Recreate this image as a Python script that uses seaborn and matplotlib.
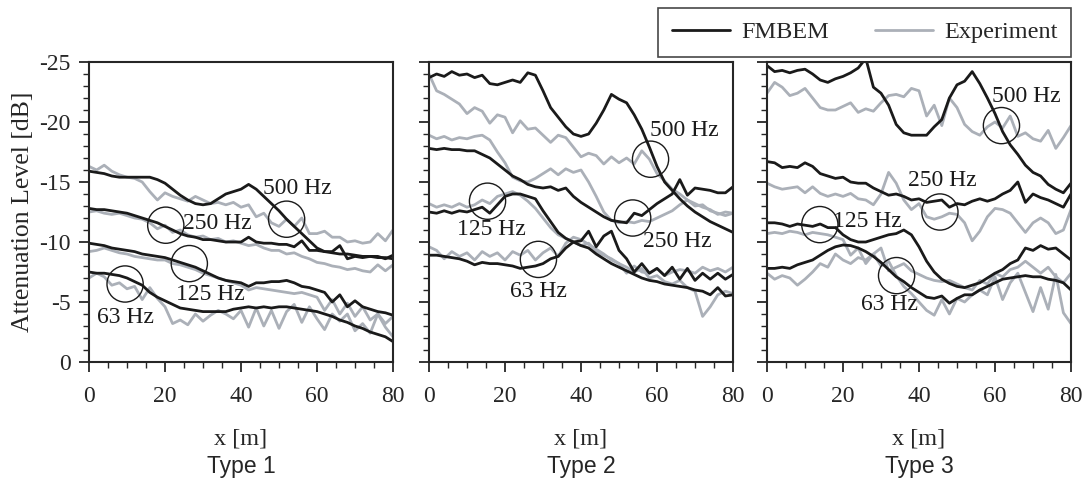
import numpy as np
import pandas as pd
import matplotlib
matplotlib.use("Agg")
import matplotlib.pyplot as plt
from matplotlib.ticker import MultipleLocator
from matplotlib.lines import Line2D
import seaborn as sns

# ── Data (attenuation level in dB, sampled every 2 m) ──
X_M = list(range(0, 81, 2))
TYPES = ["Type 1", "Type 2", "Type 3"]
FREQS = ["63 Hz", "125 Hz", "250 Hz", "500 Hz"]

# Type 1
T1_FMBEM_63 = [-7.5, -7.4, -7.4, -7.3, -7.2, -7.0, -6.7, -6.4, -5.8, -5.4, -5.1, -4.8, -4.5, -4.4, -4.3, -4.2, -4.2, -4.2, -4.2, -4.4, -4.5,
               -4.6, -4.5, -4.6, -4.5, -4.6, -4.6, -4.5, -4.4, -4.3, -4.2, -4.0, -3.8, -3.5, -3.3, -3.0, -2.8, -2.5, -2.3, -2.1, -1.7]
T1_EXP_63 = [-7.0, -7.4, -7.1, -6.4, -6.6, -6.1, -6.3, -5.2, -6.2, -5.3, -4.6, -3.2, -3.5, -3.1, -4.0, -3.4, -3.9, -4.3, -4.0, -3.6, -4.3,
             -2.9, -4.5, -3.0, -4.3, -2.8, -4.2, -4.8, -3.3, -4.6, -3.6, -2.7, -4.0, -3.4, -4.0, -2.6, -3.2, -2.4, -4.0, -2.9, -2.1]
T1_FMBEM_125 = [-9.9, -9.8, -9.7, -9.5, -9.4, -9.3, -9.2, -9.0, -8.9, -8.8, -8.7, -8.5, -8.3, -8.1, -7.9, -7.6, -7.3, -7.0, -6.8, -6.7, -6.6,
                -6.3, -6.6, -6.6, -6.7, -6.7, -6.8, -6.6, -6.3, -6.2, -6.0, -5.8, -5.0, -5.6, -4.6, -5.1, -4.6, -4.4, -4.2, -4.1, -3.9]
T1_EXP_125 = [-9.2, -9.3, -9.5, -9.3, -9.1, -9.0, -8.8, -8.7, -8.6, -8.5, -8.5, -8.2, -8.1, -7.9, -7.7, -7.4, -7.2, -7.0, -6.8, -6.6, -6.4,
              -6.0, -6.2, -6.1, -6.0, -5.9, -5.8, -5.7, -5.8, -5.6, -5.4, -4.3, -5.2, -4.0, -4.9, -3.8, -4.6, -3.5, -4.0, -3.2, -3.8]
T1_FMBEM_250 = [-12.8, -12.7, -12.7, -12.6, -12.5, -12.4, -12.2, -12.0, -11.8, -11.6, -11.3, -11.0, -10.7, -10.5, -10.4, -10.2, -10.2, -10.1, -10.0, -10.0, -10.0,
                -10.4, -10.0, -9.9, -9.9, -9.8, -9.8, -9.6, -10.1, -9.3, -9.3, -9.2, -9.1, -9.0, -9.0, -8.9, -8.8, -8.8, -8.7, -8.7, -8.6]
T1_EXP_250 = [-12.5, -12.6, -12.4, -12.3, -12.4, -12.2, -12.0, -11.9, -11.6, -11.1, -11.4, -10.8, -11.0, -10.6, -10.4, -10.5, -10.2, -10.3, -10.0, -10.1, -9.9,
              -9.7, -9.8, -9.5, -9.3, -9.3, -9.0, -9.1, -8.8, -8.6, -8.3, -8.2, -8.0, -7.9, -7.7, -7.8, -7.6, -7.5, -8.1, -7.6, -8.1]
T1_FMBEM_500 = [-15.9, -15.8, -15.7, -15.5, -15.4, -15.4, -15.4, -15.4, -15.4, -15.2, -14.9, -14.4, -13.9, -13.5, -13.2, -13.1, -13.2, -13.6, -14.0, -14.2, -14.4,
                -14.8, -14.4, -13.8, -13.2, -12.6, -11.9, -11.3, -10.7, -10.1, -9.5, -9.2, -9.2, -9.7, -8.6, -8.8, -8.7, -8.8, -8.8, -8.6, -8.9]
T1_EXP_500 = [-16.3, -16.0, -16.4, -15.9, -15.6, -15.4, -15.3, -15.0, -14.2, -13.5, -14.1, -13.8, -13.6, -13.4, -13.8, -13.5, -13.2, -13.3, -13.1, -13.3, -12.9,
              -13.1, -12.1, -12.4, -11.6, -11.3, -11.9, -11.3, -12.0, -10.7, -10.7, -10.9, -10.4, -10.4, -10.0, -10.1, -9.9, -10.0, -10.7, -10.1, -11.0]

# Type 2
T2_FMBEM_63 = [-8.9, -8.9, -8.8, -8.7, -8.6, -8.4, -8.1, -8.3, -8.2, -8.2, -8.1, -8.0, -7.8, -7.9, -8.0, -8.2, -8.6, -8.8, -9.5, -10.0, -10.1,
               -10.9, -9.6, -10.5, -10.9, -9.3, -8.6, -7.5, -8.2, -7.4, -7.8, -7.2, -7.9, -6.9, -7.8, -6.8, -7.4, -6.9, -7.4, -6.9, -7.3]
T2_EXP_63 = [-9.6, -9.3, -8.6, -9.2, -8.8, -9.1, -8.5, -9.2, -8.8, -9.1, -8.5, -9.2, -8.9, -9.3, -8.5, -9.1, -9.5, -8.8, -9.9, -10.4, -10.2,
             -9.8, -9.4, -9.0, -8.5, -8.2, -7.4, -8.0, -7.5, -7.4, -7.8, -7.2, -7.5, -7.7, -7.6, -7.4, -7.9, -7.6, -7.8, -7.5, -7.9]
T2_FMBEM_125 = [-12.5, -12.4, -12.6, -12.4, -12.6, -12.5, -12.7, -12.9, -12.4, -13.1, -13.8, -14.0, -14.0, -13.8, -13.6, -12.6, -11.7, -10.8, -10.3, -10.0, -9.7,
                -9.5, -9.0, -8.6, -8.2, -7.9, -7.6, -7.3, -7.0, -6.8, -6.7, -6.5, -6.4, -6.3, -6.2, -6.0, -5.9, -5.6, -6.2, -5.5, -5.6]
T2_EXP_125 = [-13.2, -12.9, -13.1, -12.9, -13.2, -12.9, -13.1, -13.5, -13.2, -13.8, -14.0, -14.2, -13.9, -13.4, -12.8, -12.0, -11.2, -10.6, -10.3, -10.0, -9.7,
              -9.9, -9.2, -8.9, -8.6, -8.2, -7.9, -7.5, -7.8, -7.0, -7.2, -6.7, -6.5, -6.8, -6.2, -5.9, -3.8, -4.6, -5.6, -5.9, -5.7]
T2_FMBEM_250 = [-17.8, -17.7, -17.8, -17.7, -17.7, -17.6, -17.6, -17.3, -17.0, -16.5, -16.0, -15.5, -15.2, -14.8, -14.6, -14.5, -14.6, -14.3, -14.5, -13.8, -13.3,
                -12.9, -12.5, -12.1, -11.8, -11.7, -11.6, -12.4, -12.2, -12.7, -13.2, -13.6, -14.0, -15.2, -13.9, -14.5, -14.4, -14.3, -14.1, -14.1, -14.6]
T2_EXP_250 = [-18.9, -18.6, -18.8, -18.5, -18.7, -18.6, -18.8, -18.9, -18.5, -17.5, -16.6, -15.4, -15.1, -15.0, -15.3, -15.7, -16.1, -15.6, -16.1, -15.8, -16.0,
              -15.0, -13.8, -12.5, -11.8, -11.6, -11.7, -11.6, -11.8, -11.7, -12.0, -12.3, -12.6, -13.1, -13.5, -13.0, -13.1, -12.6, -12.4, -12.2, -12.4]
T2_FMBEM_500 = [-23.7, -24.0, -23.8, -24.2, -23.9, -24.0, -23.7, -23.9, -23.2, -23.1, -23.3, -23.5, -23.3, -24.1, -23.9, -22.6, -21.2, -20.4, -19.6, -19.0, -18.8,
                -19.0, -19.9, -21.0, -22.3, -21.9, -21.6, -20.6, -19.4, -17.9, -16.3, -15.0, -14.3, -13.6, -13.0, -12.5, -12.1, -11.7, -11.4, -11.1, -10.8]
T2_EXP_500 = [-24.0, -22.6, -22.3, -21.9, -21.5, -20.7, -21.2, -20.9, -19.9, -20.6, -20.4, -19.1, -20.1, -19.4, -19.5, -18.9, -18.3, -18.9, -18.7, -17.9, -17.1,
              -17.4, -17.2, -16.5, -17.1, -16.6, -17.0, -16.5, -17.6, -16.9, -15.7, -15.1, -14.4, -14.0, -13.5, -13.2, -12.9, -12.7, -12.3, -12.5, -12.4]

# Type 3
T3_FMBEM_63 = [-7.8, -7.8, -7.9, -7.8, -8.1, -8.3, -8.5, -8.9, -9.3, -9.6, -9.75, -9.7, -9.5, -9.2, -8.8, -8.3, -7.7, -7.1, -6.7, -6.2, -5.8,
               -5.4, -5.3, -5.5, -4.9, -5.3, -5.6, -5.6, -6.0, -6.3, -6.6, -6.9, -7.0, -7.1, -7.2, -7.1, -7.1, -6.9, -6.8, -6.6, -6.0]
T3_EXP_63 = [-7.4, -6.9, -7.2, -7.0, -6.4, -6.9, -7.5, -8.2, -7.9, -9.0, -8.5, -8.2, -8.7, -8.5, -9.0, -8.0, -8.4, -7.2, -6.3, -5.7, -5.0,
             -4.3, -3.9, -5.2, -4.0, -5.3, -5.0, -5.6, -6.0, -5.6, -7.1, -5.2, -6.6, -7.4, -5.8, -4.2, -6.2, -4.4, -7.3, -4.1, -3.2]
T3_FMBEM_125 = [-11.6, -11.6, -11.5, -11.3, -11.5, -11.4, -11.3, -11.5, -11.2, -11.2, -10.6, -10.2, -10.0, -10.0, -10.2, -10.4, -10.6, -10.7, -11.0, -10.6, -9.6,
                -8.4, -7.5, -6.9, -6.55, -6.3, -6.2, -6.4, -6.6, -7.0, -7.4, -7.7, -8.2, -8.5, -9.5, -9.3, -9.7, -9.4, -9.5, -9.0, -8.5]
T3_EXP_125 = [-10.7, -10.8, -10.7, -10.9, -10.8, -10.6, -10.8, -10.7, -10.6, -10.4, -10.2, -8.9, -9.5, -8.2, -9.0, -9.5, -7.6, -7.9, -8.2, -7.6, -7.3,
              -7.0, -6.8, -6.7, -6.8, -6.5, -6.2, -6.0, -6.8, -6.5, -7.4, -7.1, -7.7, -7.9, -8.4, -7.9, -7.4, -7.9, -7.1, -6.6, -7.4]
T3_FMBEM_250 = [-16.7, -16.6, -16.2, -16.3, -16.2, -16.6, -16.3, -15.7, -15.5, -15.3, -15.4, -15.0, -14.9, -14.9, -14.5, -14.2, -13.9, -14.0, -13.8, -13.5, -13.6,
                -13.3, -13.4, -13.5, -12.9, -13.2, -13.1, -13.4, -13.6, -13.4, -13.6, -14.0, -14.3, -15.0, -13.3, -14.0, -13.7, -13.5, -13.2, -12.9, -14.0]
T3_EXP_250 = [-14.9, -14.6, -14.4, -14.5, -14.6, -14.1, -14.6, -14.05, -13.8, -14.0, -13.8, -14.05, -13.6, -13.5, -13.1, -14.0, -15.8, -14.9, -13.5, -12.7, -13.2,
              -12.1, -11.9, -12.1, -12.4, -12.3, -11.6, -10.1, -10.9, -12.1, -12.8, -12.7, -12.4, -11.6, -10.8, -11.6, -12.0, -11.6, -10.7, -11.0, -12.7]
T3_FMBEM_500 = [-24.7, -24.2, -24.3, -24.1, -24.3, -24.4, -24.0, -23.5, -23.3, -23.6, -23.8, -24.1, -24.5, -25.3, -22.9, -22.4, -21.4, -19.8, -19.1, -18.9, -18.9,
                -18.9, -19.6, -20.2, -22.0, -23.1, -23.4, -24.2, -23.2, -22.0, -20.7, -19.2, -18.1, -17.3, -16.4, -15.8, -15.5, -14.8, -14.4, -14.1, -14.9]
T3_EXP_500 = [-22.4, -23.3, -22.9, -22.2, -22.4, -22.8, -22.0, -21.2, -21.0, -21.0, -21.3, -21.6, -20.8, -21.1, -20.9, -21.6, -22.2, -22.3, -22.1, -22.8, -22.6,
              -20.5, -21.4, -19.7, -22.0, -21.2, -19.8, -19.2, -18.9, -19.6, -20.0, -19.5, -20.5, -18.8, -19.1, -18.6, -18.4, -19.3, -17.8, -18.7, -19.7]

SERIES = {
    ("Type 1", "FMBEM"): [T1_FMBEM_63, T1_FMBEM_125, T1_FMBEM_250, T1_FMBEM_500],
    ("Type 1", "Experiment"): [T1_EXP_63, T1_EXP_125, T1_EXP_250, T1_EXP_500],
    ("Type 2", "FMBEM"): [T2_FMBEM_63, T2_FMBEM_125, T2_FMBEM_250, T2_FMBEM_500],
    ("Type 2", "Experiment"): [T2_EXP_63, T2_EXP_125, T2_EXP_250, T2_EXP_500],
    ("Type 3", "FMBEM"): [T3_FMBEM_63, T3_FMBEM_125, T3_FMBEM_250, T3_FMBEM_500],
    ("Type 3", "Experiment"): [T3_EXP_63, T3_EXP_125, T3_EXP_250, T3_EXP_500],
}

# circle marks (x, level) and frequency labels (text, x, level) per panel
CIRCLES = {
    "Type 1": [(9.5, -6.5), (26.4, -8.2), (20.2, -11.4), (52.0, -11.9)],
    "Type 2": [(28.8, -8.55), (15.4, -13.4), (53.6, -12.0), (58.3, -16.9)],
    "Type 3": [(34.1, -7.2), (13.9, -11.45), (45.5, -12.5), (61.7, -19.7)],
}
LABELS = {
    "Type 1": [("63 Hz", 9.5, -3.7), ("125 Hz", 31.9, -5.6), ("250 Hz", 33.7, -11.5), ("500 Hz", 54.8, -14.5)],
    "Type 2": [("63 Hz", 28.8, -5.85), ("125 Hz", 16.3, -11.0), ("250 Hz", 65.4, -10.0), ("500 Hz", 67.1, -19.25)],
    "Type 3": [("63 Hz", 32.1, -4.75), ("125 Hz", 26.4, -11.7), ("250 Hz", 46.2, -15.1), ("500 Hz", 68.2, -22.1)],
}

rows = []
for (typ, src), curves in SERIES.items():
    for freq, vals in zip(FREQS, curves):
        for x, v in zip(X_M, vals):
            rows.append({"type": typ, "source": src, "freq": freq, "x": x, "level": v})
df = pd.DataFrame(rows)

sns.set_style("ticks")
plt.rcParams.update({
    "font.family": ["Liberation Serif", "DejaVu Serif"],
    "font.size": 17,
    "axes.unicode_minus": False,
    "axes.linewidth": 1.5,
    "xtick.major.width": 1.3, "ytick.major.width": 1.3,
    "xtick.minor.width": 1.0, "ytick.minor.width": 1.0,
    "xtick.major.size": 7, "ytick.major.size": 7,
    "xtick.minor.size": 4, "ytick.minor.size": 4,
    "xtick.direction": "out", "ytick.direction": "out",
})

BLACK = "#1a1a1a"
GRAY = "#abb0b8"
SANS = ["Liberation Sans", "DejaVu Sans"]

fig = plt.figure(figsize=(10.84, 4.79), dpi=100)
lefts = [89, 429, 767]
W = 304 / 1084
B = 1 - 362 / 479
H = 300 / 479

for i, typ in enumerate(TYPES):
    ax = fig.add_axes([lefts[i] / 1084, B, W, H])
    sub = df[df["type"] == typ]
    sns.lineplot(data=sub[sub["source"] == "Experiment"], x="x", y="level", units="freq",
                 estimator=None, color=GRAY, lw=2.0, ax=ax, legend=False)
    sns.lineplot(data=sub[sub["source"] == "FMBEM"], x="x", y="level", units="freq",
                 estimator=None, color=BLACK, lw=2.0, ax=ax, legend=False)
    cx = [c[0] for c in CIRCLES[typ]]
    cy = [c[1] for c in CIRCLES[typ]]
    ax.scatter(cx, cy, s=680, facecolors="none", edgecolors=BLACK, linewidths=1.0, zorder=5)
    for txt, lx, ly in LABELS[typ]:
        ax.text(lx, ly, txt, ha="center", va="center", fontsize=17, color=BLACK, zorder=6)

    ax.set_xlim(0, 80)
    ax.set_ylim(0, -25)
    ax.xaxis.set_major_locator(MultipleLocator(20))
    ax.xaxis.set_minor_locator(MultipleLocator(5))
    ax.yaxis.set_major_locator(MultipleLocator(5))
    ax.yaxis.set_minor_locator(MultipleLocator(1))
    ax.tick_params(labelsize=17, pad=6)
    ax.tick_params(axis="x", pad=10)
    ax.set_xticks([0, 20, 40, 60, 80])
    ax.set_xticklabels(["0", "20", "40", "60", "80"])
    ax.set_xlabel("x [m]", fontsize=17.5, labelpad=16)
    if i == 0:
        ax.set_yticks([-25, -20, -15, -10, -5, 0])
        ax.set_yticklabels(["-25", "-20", "-15", "-10", "-5", "0"])
        ax.set_ylabel("Attenuation Level [dB]", fontsize=18.5, labelpad=4)
    else:
        ax.set_ylabel("")
        ax.tick_params(axis="y", labelleft=False)
    for sp in ax.spines.values():
        sp.set_visible(True)
        sp.set_linewidth(1.5)
    fig.text((lefts[i] + 152) / 1084, 1 - 467 / 479, typ, ha="center", va="center",
             fontsize=16.5, family=SANS)

handles = [Line2D([], [], color=BLACK, lw=2.0), Line2D([], [], color=GRAY, lw=2.0)]
leg = fig.legend(handles, ["FMBEM", "Experiment"], ncol=2, loc="upper right",
                 bbox_to_anchor=(1071 / 1084, 1 - 8 / 479), borderaxespad=0,
                 frameon=True, fancybox=False, edgecolor=BLACK, fontsize=17.5,
                 handlelength=2.4, handletextpad=0.45, columnspacing=1.9,
                 borderpad=0.55)
leg.get_frame().set_linewidth(1.2)

fig.savefig("out.png", dpi=100)
